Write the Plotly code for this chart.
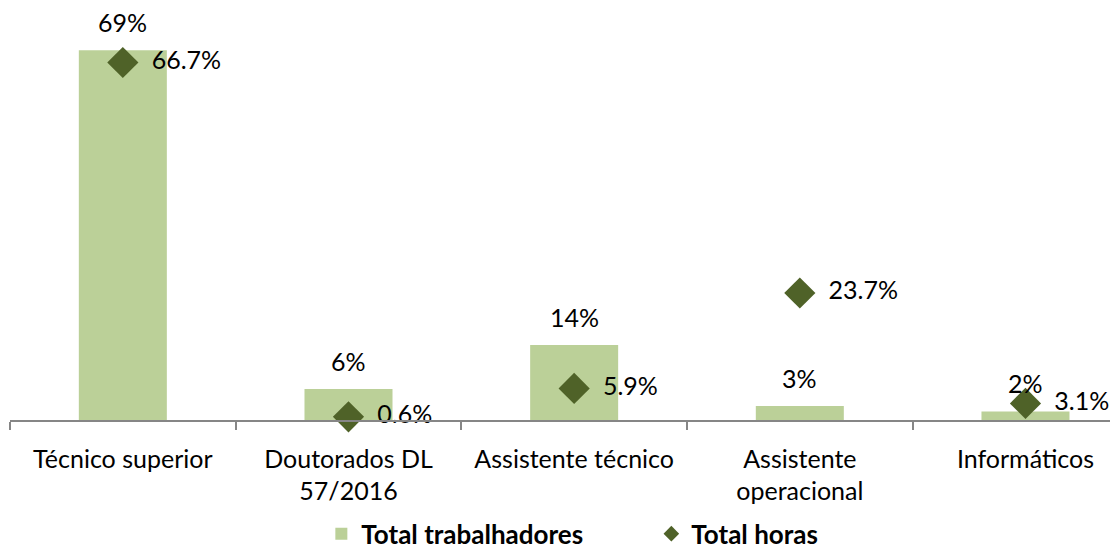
import plotly.graph_objects as go

categories = ["Técnico superior", "Doutorados DL<br>57/2016", "Assistente técnico",
              "Assistente<br>operacional", "Informáticos"]
trabalhadores = [69, 5.8, 14, 2.6, 1.6]
horas = [66.7, 0.6, 5.9, 23.7, 3.1]

FONT = "Lato, 'Open Sans', sans-serif"
FS = 25

fig = go.Figure()
fig.add_trace(go.Bar(
    x=categories, y=trabalhadores, name="Total trabalhadores",
    marker=dict(color="#BBD098", line=dict(width=0)),
    width=0.39,
    cliponaxis=False,
))
fig.add_trace(go.Scatter(
    x=categories, y=horas, name="Total horas", mode="markers+text",
    marker=dict(symbol="diamond", size=24, color="#4F6228"),
    text=[f"  {v:.1f}%" for v in horas], textposition="middle right",
    textfont=dict(family=FONT, size=FS, color="#000000"),
    cliponaxis=False,
))

for c, v in zip(categories, trabalhadores):
    fig.add_annotation(x=c, y=v, text=f"{v:.0f}%", showarrow=False,
                       yanchor="middle", yshift=28,
                       font=dict(family=FONT, size=FS, color="#000000"))

fig.update_layout(
    width=1110, height=542,
    margin=dict(l=2, r=0, t=2, b=130, autoexpand=False),
    paper_bgcolor="white", plot_bgcolor="white",
    font=dict(family=FONT, size=FS, color="#000000"),
    showlegend=True,
    legend=dict(orientation="h", x=0.281, xanchor="left", y=0.03, yanchor="middle",
                yref="container", entrywidth=285, entrywidthmode="pixels",
                font=dict(family=FONT, size=26, color="#000000", weight="bold"),
                itemsizing="constant", tracegroupgap=0),
)
fig.update_xaxes(
    type="category", range=[-0.5, 4.41],
    showline=True, linecolor="#868686", linewidth=1.5,
    ticks="outside", tickson="boundaries", ticklen=8, tickcolor="#868686", tickwidth=1.5,
    ticklabelstandoff=16,
    showgrid=False, tickfont=dict(family=FONT, size=FS, color="#000000"),
)
fig.update_yaxes(range=[0, 76.5], visible=False, showgrid=False, zeroline=False)

fig.write_html("out.html")
